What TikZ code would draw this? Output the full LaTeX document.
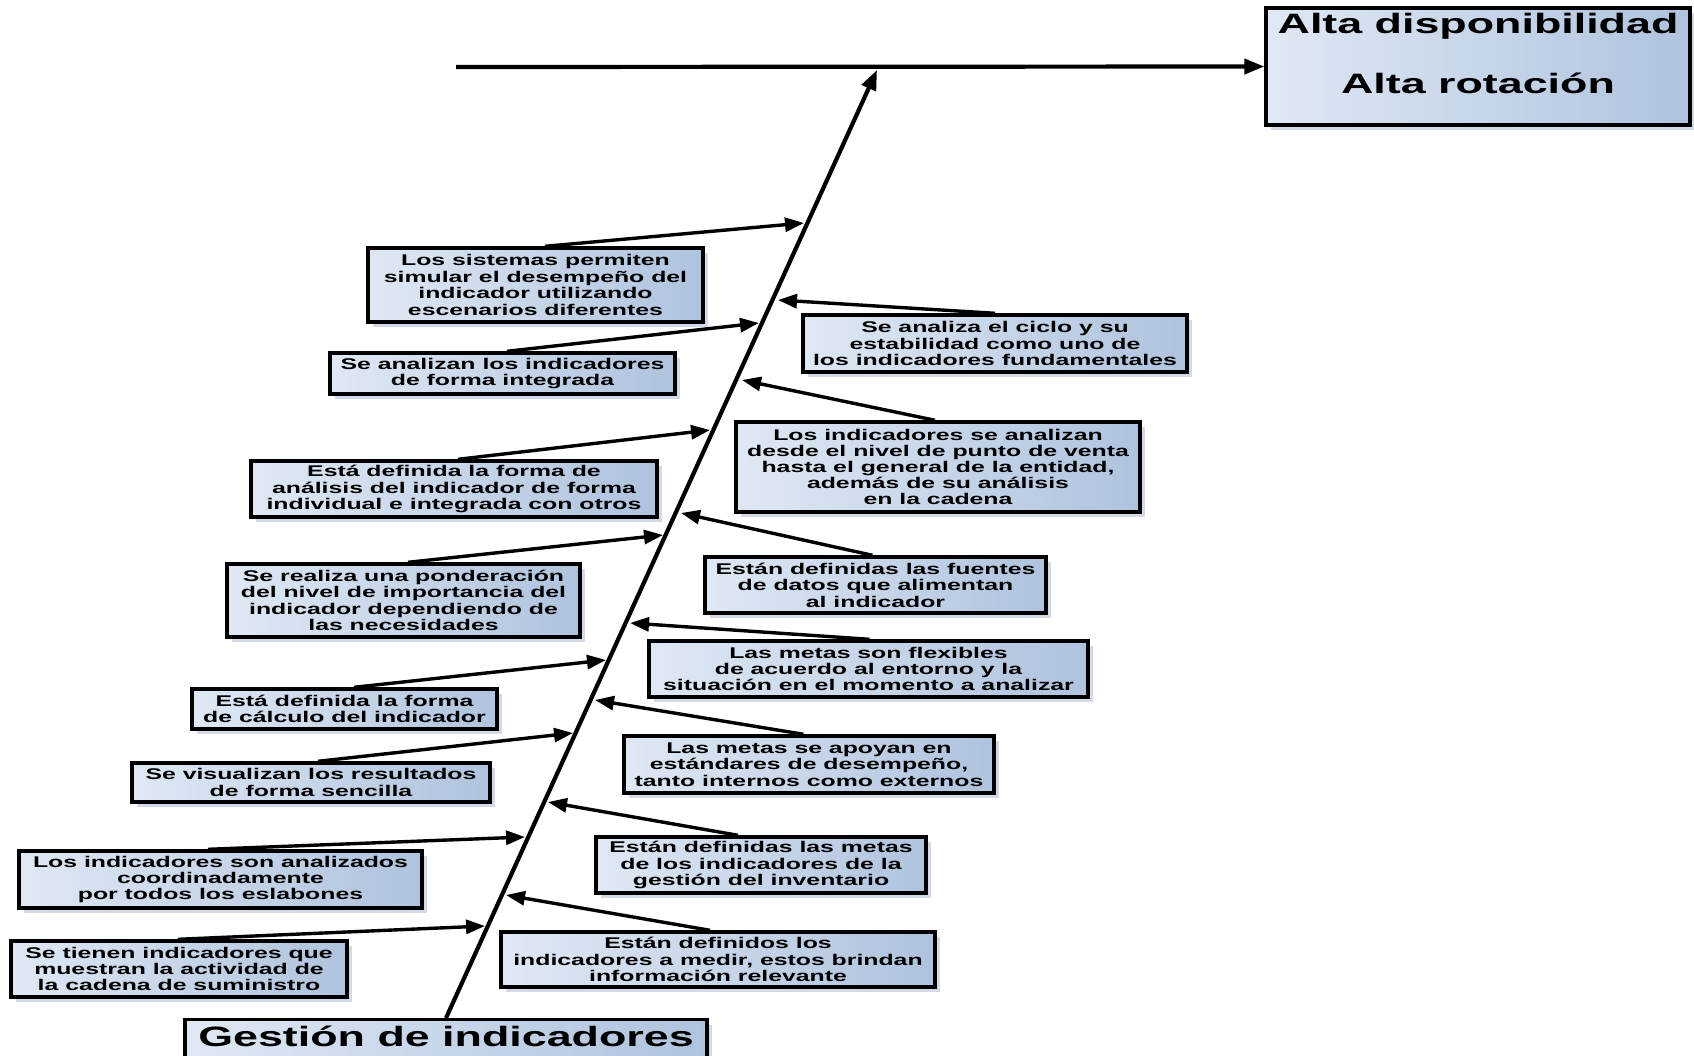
\documentclass[tikz,border=0pt]{standalone}
\usepackage{fontspec}
\newfontfamily\boxfont{Liberation Sans}[FakeStretch=1.6]
\usetikzlibrary{arrows.meta,shadows}
\definecolor{boxL}{HTML}{DFE8F4}
\definecolor{boxR}{HTML}{AFC3DE}
\definecolor{shad}{HTML}{B5C2D6}
\definecolor{lshad}{HTML}{C2CEDF}
\tikzset{
  boxbase/.style={draw=black, line width=3.4pt, left color=boxL, right color=boxR,
    inner sep=0pt, drop shadow={shadow xshift=5pt, shadow yshift=-5pt, fill=shad, opacity=0.6}},
  cbox/.style={boxbase, align=center, font=\boxfont\bfseries\fontsize{15.5}{16.4}\selectfont},
  bigbox/.style={boxbase, font=\boxfont\bfseries\fontsize{28}{30}\selectfont},
  bigtxt/.style={inner sep=0pt, font=\boxfont\bfseries\fontsize{28}{30}\selectfont},
  mainline/.style={line width=4.2pt, -{Triangle[length=20pt,width=15pt]}},
  branch/.style={line width=3.4pt, -{Triangle[length=19pt,width=14pt]}}
}
\begin{document}
\begin{tikzpicture}[x=1pt,y=-1pt]
\useasboundingbox (0,0) rectangle (1694,1055);

% result box
\node[bigbox, minimum width=424pt, minimum height=117pt] (res) at (1478,66.5) {};
\node[bigtxt, anchor=base] (res1) at ([yshift=-27.5pt]res.north) {Alta disponibilidad};
\node[bigtxt, anchor=base] (res2) at ([yshift=-87.5pt]res.north) {Alta rotación};

% head box
\node[bigbox, minimum width=522pt, minimum height=50pt, anchor=north,
      text height=20pt, text depth=17pt] (gest) at (446,1018) {Gestión de indicadores};

% left boxes
\node[cbox, minimum width=335pt, minimum height=74pt] (L1) at (535.5,285)
  {Los sistemas permiten\\simular el desempeño del\\indicador utilizando\\escenarios diferentes};
\node[cbox, minimum width=345pt, minimum height=41pt] (L2) at (502.5,373.5)
  {Se analizan los indicadores\\de forma integrada};
\node[cbox, minimum width=406pt, minimum height=56pt] (L3) at (454,489)
  {Está definida la forma de\\análisis del indicador de forma\\individual e integrada con otros};
\node[cbox, minimum width=353pt, minimum height=73pt] (L4) at (403.5,600.5)
  {Se realiza una ponderación\\del nivel de importancia del\\indicador dependiendo de\\las necesidades};
\node[cbox, minimum width=305pt, minimum height=40pt] (L5) at (344.5,709)
  {Está definida la forma\\de cálculo del indicador};
\node[cbox, minimum width=358pt, minimum height=39pt] (L6) at (311,782.5)
  {Se visualizan los resultados\\de forma sencilla};
\node[cbox, minimum width=403pt, minimum height=57pt] (L7) at (220.5,879.5)
  {Los indicadores son analizados\\coordinadamente\\por todos los eslabones};
\node[cbox, minimum width=336pt, minimum height=56pt] (L8) at (179,969)
  {Se tienen indicadores que\\muestran la actividad de\\la cadena de suministro};

% right boxes
\node[cbox, minimum width=384pt, minimum height=57pt] (R1) at (995,343.5)
  {Se analiza el ciclo y su\\estabilidad como uno de\\los indicadores fundamentales};
\node[cbox, minimum width=404pt, minimum height=90pt, font=\boxfont\bfseries\fontsize{15.5}{16}\selectfont] (R2) at (938,467)
  {Los indicadores se analizan\\desde el nivel de punto de venta\\hasta el general de la entidad,\\además de su análisis\\en la cadena};
\node[cbox, minimum width=341pt, minimum height=56pt] (R3) at (875.5,585)
  {Están definidas las fuentes\\de datos que alimentan\\al indicador};
\node[cbox, minimum width=439pt, minimum height=56pt] (R4) at (868.5,669)
  {Las metas son flexibles\\de acuerdo al entorno y la\\situación en el momento a analizar};
\node[cbox, minimum width=370pt, minimum height=57pt] (R5) at (809,764.5)
  {Las metas se apoyan en\\estándares de desempeño,\\tanto internos como externos};
\node[cbox, minimum width=330pt, minimum height=56pt] (R6) at (761,865)
  {Están definidas las metas\\de los indicadores de la\\gestión del inventario};
\node[cbox, minimum width=434pt, minimum height=55pt] (R7) at (718,959.5)
  {Están definidos los\\indicadores a medir, estos brindan\\información relevante};

% coordinates
\coordinate (hstart) at (456,67);
\coordinate (spinetop) at (877,70);
\coordinate (tL1) at (804,223);
\coordinate (tL2) at (759,323);
\coordinate (tL3) at (710,430);
\coordinate (tL4) at (663,535);
\coordinate (tL5) at (606,660);
\coordinate (tL6) at (573,733);
\coordinate (tL7) at (525,837);
\coordinate (tL8) at (485,926);
\coordinate (tR1) at (778,300);
\coordinate (tR2) at (742,380);
\coordinate (tR3) at (681,513);
\coordinate (tR4) at (630,623);
\coordinate (tR5) at (595,700);
\coordinate (tR6) at (548,802);
\coordinate (tR7) at (506,895);

% main lines
\draw[mainline] (hstart) -- (res.west);
\draw[mainline] (gest.north) -- (spinetop);

% branches
\draw[branch] ([xshift=9.5pt]L1.north) -- (tL1);
\draw[branch] ([xshift=4.5pt]L2.north) -- (tL2);
\draw[branch] ([xshift=4pt]L3.north) -- (tL3);
\draw[branch] ([xshift=4.5pt]L4.north) -- (tL4);
\draw[branch] ([xshift=9.5pt]L5.north) -- (tL5);
\draw[branch] ([xshift=7pt]L6.north) -- (tL6);
\draw[branch] ([xshift=-12.5pt]L7.north) -- (tL7);
\draw[branch] ([xshift=-1pt]L8.north) -- (tL8);
\draw[branch] (R1.north) -- (tR1);
\draw[branch] ([xshift=-3pt]R2.north) -- (tR2);
\draw[branch] ([xshift=-3pt]R3.north) -- (tR3);
\draw[branch] ([xshift=1pt]R4.north) -- (tR4);
\draw[branch] ([xshift=-5.5pt]R5.north) -- (tR5);
\draw[branch] ([xshift=-23pt]R6.north) -- (tR6);
\draw[branch] ([xshift=-8pt]R7.north) -- (tR7);
\end{tikzpicture}
\end{document}
